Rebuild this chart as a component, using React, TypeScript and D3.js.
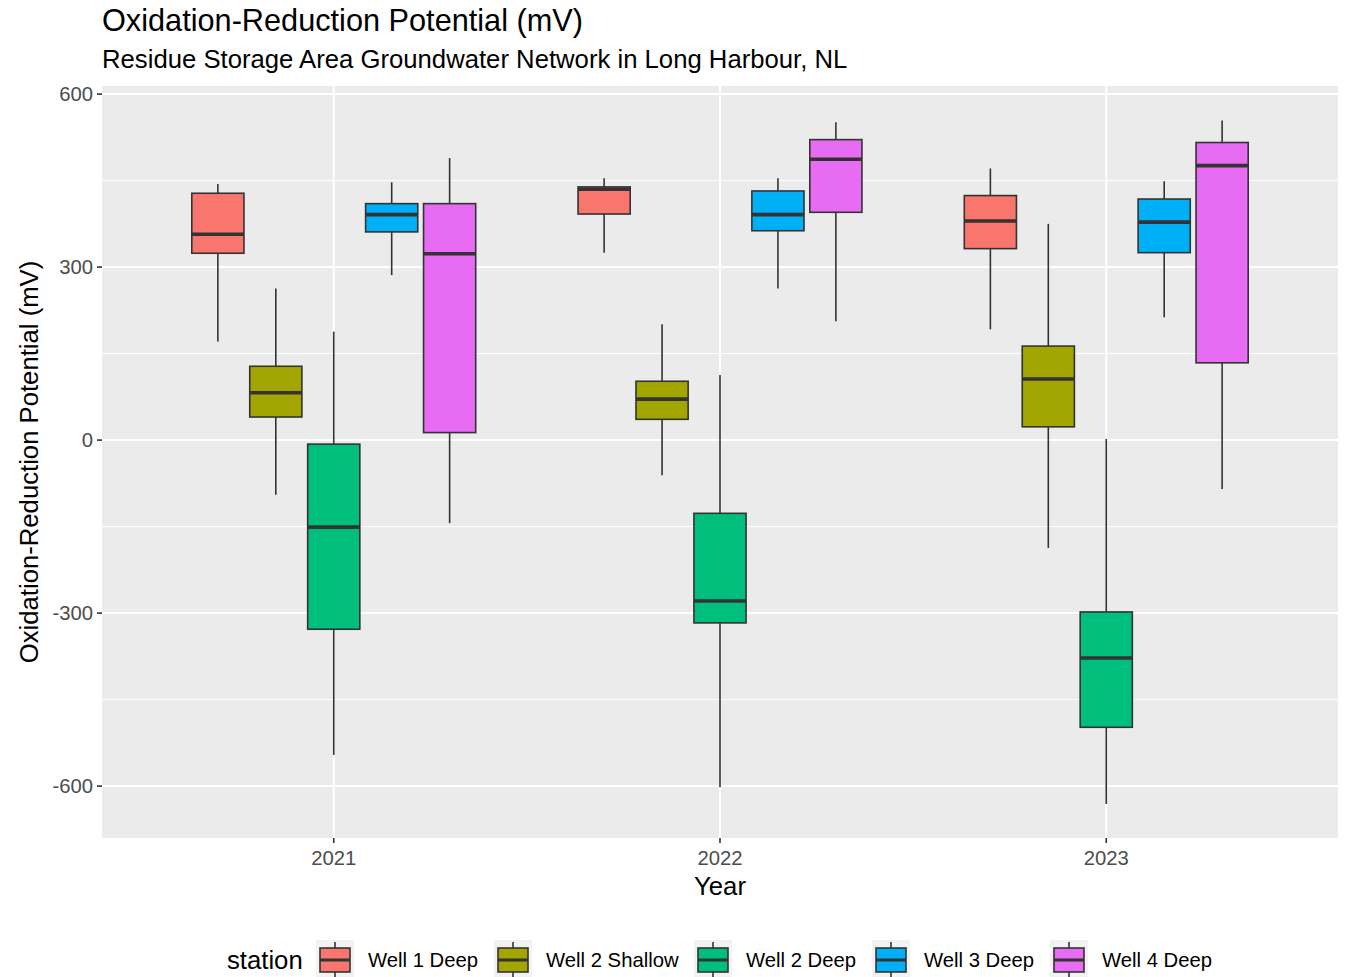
import React from "react";
import * as d3 from "d3";

const years = ["2021", "2022", "2023"];
const stations = ["Well 1 Deep", "Well 2 Shallow", "Well 2 Deep", "Well 3 Deep", "Well 4 Deep"];
const stationColors = ["#F8766D", "#A3A500", "#00BF7D", "#00B0F6", "#E76BF3"];

// [lower whisker, q1, median, q3, upper whisker] per year (2021, 2022, 2023)
const well1Deep = [
  [171, 324, 357, 428, 444],
  [325, 392, 435, 439, 454],
  [192, 332, 380, 424, 471],
];
const well2Shallow = [
  [-95, 40, 82, 128, 263],
  [-61, 36, 71, 102, 201],
  [-187, 23, 106, 163, 375],
];
const well2Deep = [
  [-546, -328, -151, -7, 188],
  [-602, -317, -279, -127, 113],
  [-631, -498, -378, -298, 2],
];
const well3Deep = [
  [286, 361, 391, 410, 447],
  [263, 363, 391, 432, 454],
  [213, 325, 378, 418, 449],
];
const well4Deep = [
  [-144, 13, 323, 410, 489],
  [206, 395, 487, 521, 551],
  [-85, 134, 476, 516, 554],
];
const stationStats = [well1Deep, well2Shallow, well2Deep, well3Deep, well4Deep];

const yMajor = [-600, -300, 0, 300, 600];
const yMinor = [-450, -150, 150, 450];

const FONT = "'Liberation Sans', Arial, Helvetica, sans-serif";

export default function App() {
  const W = 1345, H = 977;
  const pl = 102, pr = 1338, pt = 86, pb = 838;

  const x = d3.scaleLinear().domain([0.4, years.length + 0.6]).range([pl, pr]);
  const step = x(2) - x(1);
  const dodge = d3.scaleBand().domain(stations).range([-0.375 * step, 0.375 * step]).padding(0);
  const boxW = dodge.bandwidth() * 0.9;
  const y = d3.scaleLinear().domain([-690, 614]).range([pb, pt]);

  const boxes: React.ReactNode[] = [];
  years.forEach((yr, i) => {
    const cx0 = x(i + 1);
    stations.forEach((st, j) => {
      const [lo, q1, med, q3, hi] = stationStats[j][i];
      const cx = cx0 + (dodge(st) as number) + dodge.bandwidth() / 2;
      boxes.push(
        <g key={yr + st}>
          <line x1={cx} x2={cx} y1={y(hi)} y2={y(q3)} stroke="#333333" strokeWidth={1.6} />
          <line x1={cx} x2={cx} y1={y(q1)} y2={y(lo)} stroke="#333333" strokeWidth={1.6} />
          <rect x={cx - boxW / 2} y={y(q3)} width={boxW} height={y(q1) - y(q3)} fill={stationColors[j]} stroke="#333333" strokeWidth={1.6} />
          <line x1={cx - boxW / 2} x2={cx + boxW / 2} y1={y(med)} y2={y(med)} stroke="#333333" strokeWidth={3.6} />
        </g>
      );
    });
  });

  const legendKeysX = [316, 494, 694, 872, 1050];
  const legendCy = 960;

  return (
    <svg width={W} height={H} style={{ position: "absolute", left: 0, top: 0, background: "#fff" }} fontFamily={FONT}>
      <rect x={0} y={0} width={W} height={H} fill="#ffffff" />
      <text x={102} y={31} fontSize={30.7} fill="#000">Oxidation-Reduction Potential (mV)</text>
      <text x={102} y={68} fontSize={25.7} fill="#000">Residue Storage Area Groundwater Network in Long Harbour, NL</text>

      <rect x={pl} y={pt} width={pr - pl} height={pb - pt} fill="#EBEBEB" />
      {yMinor.map((v) => (
        <line key={"mn" + v} x1={pl} x2={pr} y1={y(v)} y2={y(v)} stroke="#ffffff" strokeWidth={1} />
      ))}
      {yMajor.map((v) => (
        <line key={"mj" + v} x1={pl} x2={pr} y1={y(v)} y2={y(v)} stroke="#ffffff" strokeWidth={2} />
      ))}
      {years.map((yr, i) => (
        <line key={"vx" + yr} x1={x(i + 1)} x2={x(i + 1)} y1={pt} y2={pb} stroke="#ffffff" strokeWidth={2} />
      ))}

      {boxes}

      {yMajor.map((v) => (
        <g key={"yt" + v}>
          <line x1={pl - 5} x2={pl} y1={y(v)} y2={y(v)} stroke="#333333" strokeWidth={1.6} />
          <text x={pl - 9} y={y(v)} dy="0.35em" textAnchor="end" fontSize={20.3} fill="#4D4D4D">{v}</text>
        </g>
      ))}
      {years.map((yr, i) => (
        <g key={"xt" + yr}>
          <line x1={x(i + 1)} x2={x(i + 1)} y1={pb} y2={pb + 5} stroke="#333333" strokeWidth={1.6} />
          <text x={x(i + 1)} y={865} textAnchor="middle" fontSize={20.3} fill="#4D4D4D">{yr}</text>
        </g>
      ))}

      <text x={(pl + pr) / 2} y={895} textAnchor="middle" fontSize={25.7} fill="#000">Year</text>
      <text transform={`translate(38, ${(pt + pb) / 2}) rotate(-90)`} textAnchor="middle" fontSize={25.7} fill="#000">
        Oxidation-Reduction Potential (mV)
      </text>

      <text x={227} y={969} fontSize={25.7} fill="#000">station</text>
      {stations.map((st, j) => {
        const kx = legendKeysX[j];
        const kw = 38;
        const kcx = kx + kw / 2;
        return (
          <g key={"lg" + st}>
            <rect x={kx} y={legendCy - 20} width={kw} height={40} fill="#F2F2F2" />
            <line x1={kcx} x2={kcx} y1={legendCy - 18} y2={legendCy + 18} stroke="#333333" strokeWidth={1.6} />
            <rect x={kx + 4} y={legendCy - 12} width={kw - 8} height={24} fill={stationColors[j]} stroke="#333333" strokeWidth={1.6} />
            <line x1={kx + 4} x2={kx + kw - 4} y1={legendCy} y2={legendCy} stroke="#333333" strokeWidth={3} />
            <text x={kx + 52} y={legendCy} dy="0.35em" fontSize={20.3} fill="#000">{st}</text>
          </g>
        );
      })}
    </svg>
  );
}
